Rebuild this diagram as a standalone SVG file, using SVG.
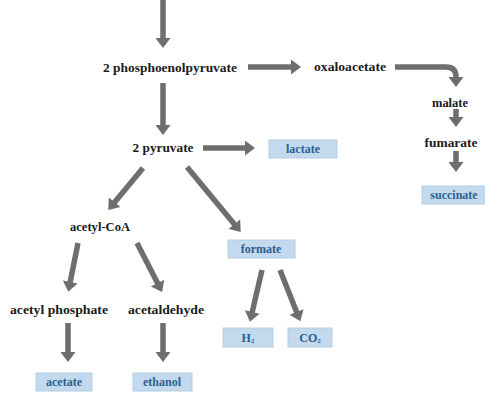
<svg xmlns="http://www.w3.org/2000/svg" width="485" height="394" viewBox="0 0 485 394">
<style>
.t{font-family:"Liberation Serif","Times New Roman",serif;font-weight:bold;font-size:11.5px;fill:#1a1a1a;text-anchor:middle;dominant-baseline:central}
.b{font-family:"Liberation Serif","Times New Roman",serif;font-weight:bold;font-size:12px;fill:#2d5f8e;text-anchor:middle;dominant-baseline:central}
.box{fill:#c3daee;stroke:#b4cde3;stroke-width:1}
.c{stroke:#6e6e6e;stroke-width:5.5;fill:none;marker-end:url(#ah)}
</style>
<defs>
<marker id="ah" markerUnits="userSpaceOnUse" markerWidth="15" markerHeight="15" viewBox="0 0 10 15" refX="1" refY="7.5" orient="auto">
<path d="M0,0 L10,7.5 L0,15 Z" fill="#6e6e6e"/>
</marker>
</defs>
<rect width="485" height="394" fill="#ffffff"/>
<g id="connectors">
<path class="c" d="M163,0 V39"/>
<path class="c" d="M163,83 V126"/>
<path class="c" d="M248,67 H292"/>
<path class="c" d="M395,67 H446 Q456,67 456,77 V78"/>
<path class="c" d="M456,109 V118"/>
<path class="c" d="M456,151 V163"/>
<path class="c" d="M203,148 H246"/>
<path class="c" d="M143,168 L114,203"/>
<path class="c" d="M187,167 L235,225"/>
<path class="c" d="M78,243 L70,283"/>
<path class="c" d="M137,243 L158,284"/>
<path class="c" d="M68,323 V353"/>
<path class="c" d="M163,323 V353"/>
<path class="c" d="M262,270 L252,313"/>
<path class="c" d="M280,270 L297,313"/>
</g>
<g id="pep"><text class="t" x="170" y="68" textLength="134" lengthAdjust="spacingAndGlyphs">2 phosphoenolpyruvate</text></g>
<g id="oxaloacetate"><text class="t" x="350" y="67" textLength="72" lengthAdjust="spacingAndGlyphs">oxaloacetate</text></g>
<g id="malate"><text class="t" x="450" y="103" textLength="36" lengthAdjust="spacingAndGlyphs">malate</text></g>
<g id="fumarate"><text class="t" x="451" y="143" textLength="53" lengthAdjust="spacingAndGlyphs">fumarate</text></g>
<g id="succinate"><rect class="box" x="422" y="186" width="63" height="18"/><text class="b" x="454" y="195">succinate</text></g>
<g id="pyruvate"><text class="t" x="163" y="148" textLength="61" lengthAdjust="spacingAndGlyphs">2 pyruvate</text></g>
<g id="lactate"><rect class="box" x="269" y="140" width="68" height="18"/><text class="b" x="303" y="149">lactate</text></g>
<g id="acetylcoa"><text class="t" x="100" y="227" textLength="60" lengthAdjust="spacingAndGlyphs">acetyl-CoA</text></g>
<g id="formate"><rect class="box" x="228" y="240" width="67" height="18"/><text class="b" x="261" y="249">formate</text></g>
<g id="acetylphosphate"><text class="t" x="59" y="310" textLength="98" lengthAdjust="spacingAndGlyphs">acetyl phosphate</text></g>
<g id="acetaldehyde"><text class="t" x="166" y="310" textLength="76" lengthAdjust="spacingAndGlyphs">acetaldehyde</text></g>
<g id="h2"><rect class="box" x="223" y="328" width="50" height="19"/><text class="b" x="248" y="337.5">H<tspan font-size="7" dy="3">2</tspan></text></g>
<g id="co2"><rect class="box" x="288" y="328" width="44" height="19"/><text class="b" x="310" y="337.5">CO<tspan font-size="7" dy="3">2</tspan></text></g>
<g id="acetate"><rect class="box" x="36" y="373" width="56" height="18"/><text class="b" x="64" y="382">acetate</text></g>
<g id="ethanol"><rect class="box" x="133" y="373" width="59" height="18"/><text class="b" x="162" y="382">ethanol</text></g>
</svg>
